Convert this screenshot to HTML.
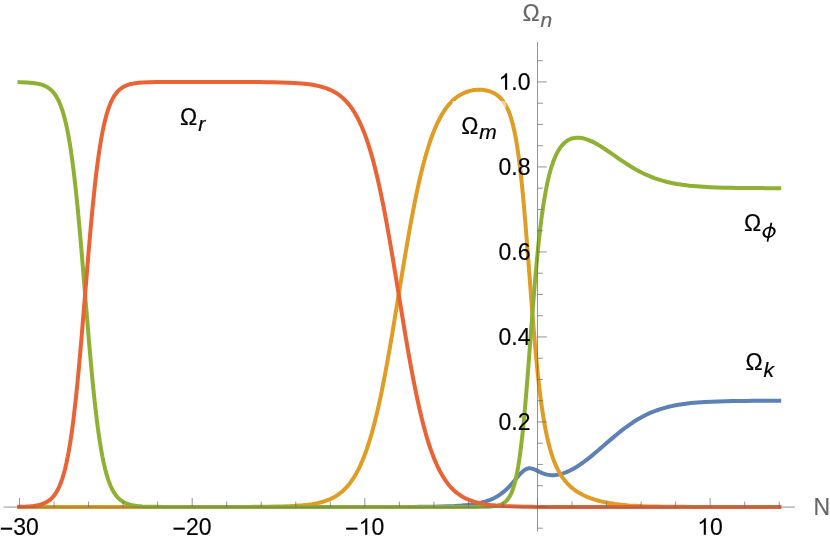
<!DOCTYPE html>
<html><head><meta charset="utf-8"><title>Density parameters</title>
<style>
html,body{margin:0;padding:0;background:#fff;}
body{width:830px;height:542px;overflow:hidden;font-family:"Liberation Sans",sans-serif;}
svg{display:block;will-change:transform;font-family:"Liberation Sans",sans-serif;}
</style></head><body>
<svg width="830" height="542" viewBox="0 0 830 542">
<rect width="830" height="542" fill="#fff"/>
<path d="M19.49 506.95 L26.40 506.95 L33.30 506.95 L40.21 506.95 L47.12 506.95 L54.02 506.95 L60.93 506.95 L67.84 506.95 L74.74 506.95 L81.65 506.95 L88.56 506.95 L95.46 506.95 L102.37 506.95 L109.28 506.95 L116.19 506.95 L123.09 506.95 L130.00 506.95 L136.91 506.95 L143.81 506.95 L150.72 506.95 L157.63 506.95 L164.53 506.95 L171.44 506.95 L178.35 506.95 L185.25 506.95 L192.16 506.95 L199.07 506.95 L205.97 506.95 L212.88 506.95 L219.79 506.95 L226.69 506.95 L233.60 506.95 L240.51 506.95 L247.41 506.95 L254.32 506.95 L261.23 506.95 L268.13 506.95 L275.04 506.95 L281.95 506.95 L288.86 506.95 L295.76 506.95 L302.67 506.95 L309.58 506.95 L316.48 506.95 L323.39 506.95 L330.30 506.95 L337.20 506.95 L344.11 506.95 L351.02 506.95 L357.92 506.95 L364.83 506.95 L371.74 506.95 L378.64 506.95 L385.55 506.94 L392.46 506.94 L399.36 506.93 L406.27 506.92 L413.18 506.89 L420.08 506.85 L426.99 506.79 L433.90 506.70 L440.80 506.57 L447.71 506.36 L454.62 506.06 L461.53 505.60 L467.05 505.09 L471.19 504.57 L475.34 503.92 L478.10 503.40 L480.86 502.78 L483.63 502.06 L486.39 501.22 L489.15 500.23 L490.53 499.68 L491.92 499.09 L493.30 498.45 L494.68 497.75 L496.06 497.01 L497.44 496.21 L498.82 495.34 L500.20 494.41 L501.58 493.42 L502.97 492.35 L504.35 491.21 L505.73 490.00 L507.11 488.71 L508.49 487.34 L509.87 485.90 L512.64 482.83 L518.16 476.28 L519.54 474.70 L520.92 473.22 L522.31 471.87 L523.69 470.70 L525.07 469.74 L526.45 469.01 L527.83 468.55 L529.21 468.33 L530.59 468.36 L531.97 468.60 L533.36 469.01 L534.74 469.55 L536.12 470.17 L540.26 472.19 L541.64 472.81 L543.03 473.37 L544.41 473.86 L545.79 474.28 L547.17 474.62 L548.55 474.88 L549.93 475.07 L551.31 475.17 L552.69 475.21 L554.08 475.17 L555.46 475.07 L556.84 474.89 L558.22 474.66 L559.60 474.37 L560.98 474.02 L562.36 473.62 L563.75 473.17 L565.13 472.67 L566.51 472.12 L569.27 470.89 L572.03 469.49 L574.80 467.95 L577.56 466.26 L580.32 464.44 L583.08 462.51 L587.23 459.41 L591.37 456.13 L598.28 450.34 L605.19 444.35 L612.09 438.37 L617.62 433.75 L621.76 430.43 L625.91 427.27 L630.05 424.30 L634.20 421.54 L636.96 419.82 L639.72 418.20 L642.48 416.67 L645.25 415.25 L648.01 413.92 L650.77 412.69 L653.53 411.55 L656.30 410.50 L660.44 409.09 L664.59 407.85 L668.73 406.77 L672.87 405.83 L678.40 404.79 L683.92 403.94 L690.83 403.10 L697.74 402.47 L704.64 402.00 L711.55 401.65 L718.46 401.39 L725.36 401.20 L732.27 401.06 L739.18 400.96 L746.09 400.88 L752.99 400.83 L759.90 400.79 L766.81 400.77 L773.71 400.75 L779.24 400.74" fill="none" stroke="#5E81B5" stroke-width="4" stroke-linecap="square" stroke-linejoin="round"/>
<path d="M19.49 506.95 L26.40 506.95 L33.30 506.95 L40.21 506.95 L47.12 506.95 L54.02 506.95 L60.93 506.95 L67.84 506.95 L74.74 506.95 L81.65 506.95 L88.56 506.95 L95.46 506.95 L102.37 506.95 L109.28 506.95 L116.19 506.95 L123.09 506.95 L130.00 506.95 L136.91 506.95 L143.81 506.95 L150.72 506.95 L157.63 506.95 L164.53 506.95 L171.44 506.95 L178.35 506.95 L185.25 506.95 L192.16 506.95 L199.07 506.95 L205.97 506.94 L212.88 506.94 L219.79 506.94 L226.69 506.93 L233.60 506.92 L240.51 506.91 L247.41 506.88 L254.32 506.85 L261.23 506.80 L268.13 506.73 L275.04 506.62 L281.95 506.46 L288.86 506.22 L295.76 505.86 L302.67 505.32 L308.19 504.71 L312.34 504.11 L316.48 503.35 L319.25 502.73 L322.01 502.00 L324.77 501.16 L327.53 500.17 L328.91 499.61 L330.30 499.01 L331.68 498.37 L333.06 497.67 L334.44 496.91 L335.82 496.10 L337.20 495.22 L338.58 494.27 L339.97 493.25 L341.35 492.15 L342.73 490.96 L344.11 489.68 L345.49 488.31 L346.87 486.83 L348.25 485.24 L349.64 483.53 L351.02 481.69 L352.40 479.72 L353.78 477.61 L355.16 475.35 L356.54 472.93 L357.92 470.34 L359.30 467.57 L360.69 464.62 L362.07 461.47 L363.45 458.12 L364.83 454.56 L366.21 450.77 L367.59 446.75 L368.97 442.50 L370.36 438.00 L371.74 433.25 L373.12 428.25 L374.50 422.99 L375.88 417.47 L377.26 411.69 L378.64 405.65 L380.02 399.35 L381.41 392.79 L382.79 385.99 L384.17 378.95 L386.93 364.20 L389.69 348.66 L392.46 332.47 L399.36 290.39 L404.89 256.80 L407.65 240.61 L410.41 225.05 L413.18 210.30 L414.56 203.25 L415.94 196.45 L417.32 189.89 L418.70 183.58 L420.08 177.54 L421.47 171.75 L422.85 166.23 L424.23 160.97 L425.61 155.97 L426.99 151.23 L428.37 146.73 L429.75 142.49 L431.14 138.48 L432.52 134.70 L433.90 131.15 L435.28 127.81 L436.66 124.68 L438.04 121.74 L439.42 119.00 L440.80 116.43 L442.19 114.04 L443.57 111.80 L444.95 109.73 L446.33 107.80 L447.71 106.00 L449.09 104.34 L450.47 102.80 L451.86 101.38 L453.24 100.06 L454.62 98.85 L456.00 97.74 L457.38 96.72 L458.76 95.78 L460.14 94.93 L461.53 94.15 L462.91 93.45 L464.29 92.82 L465.67 92.25 L467.05 91.75 L468.43 91.31 L469.81 90.92 L471.19 90.60 L472.58 90.32 L473.96 90.10 L475.34 89.93 L476.72 89.82 L478.10 89.75 L479.48 89.74 L480.86 89.78 L482.25 89.87 L483.63 90.01 L485.01 90.21 L486.39 90.48 L487.77 90.80 L489.15 91.19 L490.53 91.66 L491.92 92.20 L493.30 92.84 L494.68 93.57 L496.06 94.41 L497.44 95.38 L498.82 96.49 L500.20 97.77 L501.58 99.24 L502.97 100.93 L504.35 102.90 L505.73 105.17 L507.11 107.82 L508.49 110.91 L509.87 114.51 L511.25 118.73 L512.64 123.67 L514.02 129.45 L515.40 136.20 L516.78 144.04 L518.16 153.11 L519.54 163.52 L520.92 175.34 L522.31 188.59 L523.69 203.24 L525.07 219.16 L526.45 236.13 L531.97 308.14 L533.36 325.39 L534.74 341.73 L536.12 356.98 L537.50 371.04 L538.88 383.85 L540.26 395.44 L541.64 405.84 L543.03 415.15 L544.41 423.46 L545.79 430.85 L547.17 437.44 L548.55 443.30 L549.93 448.53 L551.31 453.21 L552.69 457.39 L554.08 461.15 L555.46 464.53 L556.84 467.58 L558.22 470.34 L559.60 472.85 L560.98 475.14 L562.36 477.23 L563.75 479.14 L565.13 480.90 L566.51 482.51 L567.89 484.01 L569.27 485.39 L570.65 486.68 L572.03 487.87 L573.42 488.98 L574.80 490.02 L576.18 490.99 L577.56 491.90 L578.94 492.75 L580.32 493.55 L583.08 495.01 L585.85 496.31 L588.61 497.47 L591.37 498.50 L594.14 499.43 L596.90 500.26 L601.04 501.35 L605.19 502.27 L609.33 503.06 L614.86 503.92 L621.76 504.76 L628.67 505.38 L635.58 505.84 L642.48 506.17 L649.39 506.41 L656.30 506.58 L663.20 506.69 L670.11 506.78 L677.02 506.83 L683.92 506.87 L690.83 506.90 L697.74 506.91 L704.64 506.93 L711.55 506.93 L718.46 506.94 L725.36 506.94 L732.27 506.94 L739.18 506.95 L746.09 506.95 L752.99 506.95 L759.90 506.95 L766.81 506.95 L773.71 506.95 L779.24 506.95" fill="none" stroke="#E19C24" stroke-width="4" stroke-linecap="square" stroke-linejoin="round"/>
<path d="M19.49 82.16 L26.40 82.42 L30.54 82.71 L33.30 83.00 L36.07 83.40 L37.45 83.65 L38.83 83.94 L40.21 84.28 L41.59 84.68 L42.97 85.15 L44.35 85.71 L45.74 86.35 L47.12 87.10 L48.50 87.99 L49.88 89.02 L51.26 90.22 L52.64 91.62 L54.02 93.25 L55.41 95.15 L56.79 97.36 L58.17 99.92 L59.55 102.89 L60.93 106.31 L62.31 110.26 L63.69 114.79 L65.07 119.98 L66.46 125.90 L67.84 132.61 L69.22 140.20 L70.60 148.72 L71.98 158.22 L73.36 168.75 L74.74 180.33 L76.13 192.94 L77.51 206.55 L78.89 221.09 L80.27 236.46 L81.65 252.51 L88.56 336.39 L89.94 352.44 L91.32 367.81 L92.70 382.35 L94.08 395.96 L95.46 408.57 L96.85 420.15 L98.23 430.68 L99.61 440.18 L100.99 448.70 L102.37 456.29 L103.75 463.00 L105.13 468.92 L106.52 474.11 L107.90 478.64 L109.28 482.59 L110.66 486.01 L112.04 488.98 L113.42 491.54 L114.80 493.75 L116.19 495.65 L117.57 497.28 L118.95 498.68 L120.33 499.88 L121.71 500.91 L123.09 501.80 L124.47 502.55 L125.85 503.19 L127.24 503.75 L128.62 504.22 L130.00 504.62 L131.38 504.96 L132.76 505.25 L135.52 505.72 L138.29 506.05 L142.43 506.40 L149.34 506.70 L156.24 506.84 L163.15 506.90 L170.06 506.93 L176.97 506.94 L183.87 506.95 L190.78 506.95 L197.69 506.95 L204.59 506.95 L211.50 506.95 L218.41 506.95 L225.31 506.95 L232.22 506.95 L239.13 506.95 L246.03 506.95 L252.94 506.95 L259.85 506.95 L266.75 506.95 L273.66 506.95 L280.57 506.95 L287.47 506.95 L294.38 506.95 L301.29 506.95 L308.19 506.95 L315.10 506.95 L322.01 506.95 L328.91 506.95 L335.82 506.95 L342.73 506.95 L349.64 506.95 L356.54 506.95 L363.45 506.95 L370.36 506.95 L377.26 506.95 L384.17 506.95 L391.08 506.95 L397.98 506.95 L404.89 506.95 L411.80 506.95 L418.70 506.95 L425.61 506.95 L432.52 506.95 L439.42 506.95 L446.33 506.95 L453.24 506.95 L460.14 506.95 L467.05 506.94 L473.96 506.93 L480.86 506.87 L487.77 506.70 L490.53 506.55 L493.30 506.30 L494.68 506.12 L496.06 505.90 L497.44 505.62 L498.82 505.27 L500.20 504.82 L501.58 504.25 L502.97 503.53 L504.35 502.63 L505.73 501.49 L507.11 500.07 L508.49 498.29 L509.87 496.06 L511.25 493.30 L512.64 489.87 L514.02 485.66 L515.40 480.52 L516.78 474.28 L518.16 466.81 L519.54 457.94 L520.92 447.57 L522.31 435.63 L523.69 422.13 L525.07 407.14 L526.45 390.87 L527.83 373.57 L531.97 319.20 L533.36 301.53 L534.74 284.63 L536.12 268.74 L537.50 254.01 L538.88 240.51 L540.26 228.26 L541.64 217.23 L543.03 207.35 L544.41 198.55 L545.79 190.73 L547.17 183.80 L548.55 177.68 L549.93 172.26 L551.31 167.48 L552.69 163.26 L554.08 159.54 L555.46 156.26 L556.84 153.38 L558.22 150.85 L559.60 148.63 L560.98 146.69 L562.36 145.00 L563.75 143.54 L565.13 142.29 L566.51 141.22 L567.89 140.32 L569.27 139.57 L570.65 138.96 L572.03 138.49 L573.42 138.13 L574.80 137.89 L576.18 137.74 L577.56 137.70 L578.94 137.74 L580.32 137.86 L581.70 138.06 L583.08 138.33 L584.47 138.67 L585.85 139.07 L587.23 139.53 L588.61 140.04 L589.99 140.61 L592.75 141.88 L595.52 143.30 L598.28 144.87 L601.04 146.55 L605.19 149.23 L612.09 153.96 L619.00 158.77 L625.91 163.42 L630.05 166.06 L634.20 168.55 L638.34 170.87 L642.48 173.00 L646.63 174.95 L650.77 176.71 L654.92 178.28 L659.06 179.68 L663.20 180.91 L667.35 181.99 L671.49 182.93 L677.02 183.99 L682.54 184.85 L689.45 185.71 L696.36 186.35 L703.26 186.84 L710.17 187.21 L717.08 187.48 L723.98 187.68 L730.89 187.82 L737.80 187.93 L744.70 188.00 L751.61 188.06 L758.52 188.10 L765.42 188.13 L772.33 188.15 L779.24 188.16" fill="none" stroke="#8FB032" stroke-width="4" stroke-linecap="square" stroke-linejoin="round"/>
<path d="M19.49 506.74 L26.40 506.48 L30.54 506.19 L33.30 505.90 L36.07 505.50 L37.45 505.25 L38.83 504.96 L40.21 504.62 L41.59 504.22 L42.97 503.75 L44.35 503.19 L45.74 502.55 L47.12 501.80 L48.50 500.91 L49.88 499.88 L51.26 498.68 L52.64 497.28 L54.02 495.65 L55.41 493.75 L56.79 491.54 L58.17 488.98 L59.55 486.01 L60.93 482.59 L62.31 478.64 L63.69 474.11 L65.07 468.92 L66.46 463.00 L67.84 456.29 L69.22 448.70 L70.60 440.18 L71.98 430.68 L73.36 420.15 L74.74 408.57 L76.13 395.96 L77.51 382.35 L78.89 367.81 L80.27 352.44 L81.65 336.39 L88.56 252.51 L89.94 236.46 L91.32 221.09 L92.70 206.55 L94.08 192.94 L95.46 180.33 L96.85 168.75 L98.23 158.22 L99.61 148.72 L100.99 140.20 L102.37 132.61 L103.75 125.90 L105.13 119.98 L106.52 114.79 L107.90 110.26 L109.28 106.31 L110.66 102.89 L112.04 99.92 L113.42 97.36 L114.80 95.15 L116.19 93.25 L117.57 91.62 L118.95 90.22 L120.33 89.02 L121.71 87.99 L123.09 87.10 L124.47 86.35 L125.85 85.71 L127.24 85.15 L128.62 84.68 L130.00 84.28 L131.38 83.94 L132.76 83.65 L135.52 83.18 L138.29 82.85 L142.43 82.50 L149.34 82.20 L156.24 82.06 L163.15 82.00 L170.06 81.97 L176.97 81.96 L183.87 81.96 L190.78 81.95 L197.69 81.95 L204.59 81.96 L211.50 81.96 L218.41 81.96 L225.31 81.97 L232.22 81.98 L239.13 81.99 L246.03 82.01 L252.94 82.04 L259.85 82.09 L266.75 82.15 L273.66 82.25 L280.57 82.40 L287.47 82.63 L294.38 82.96 L301.29 83.45 L306.81 84.02 L310.96 84.57 L315.10 85.28 L317.86 85.85 L320.63 86.52 L323.39 87.30 L326.15 88.22 L328.91 89.29 L330.30 89.89 L331.68 90.53 L333.06 91.23 L334.44 91.99 L335.82 92.80 L337.20 93.68 L338.58 94.63 L339.97 95.65 L341.35 96.75 L342.73 97.94 L344.11 99.22 L345.49 100.59 L346.87 102.07 L348.25 103.66 L349.64 105.37 L351.02 107.21 L352.40 109.18 L353.78 111.29 L355.16 113.55 L356.54 115.97 L357.92 118.56 L359.30 121.33 L360.69 124.28 L362.07 127.43 L363.45 130.78 L364.83 134.35 L366.21 138.13 L367.59 142.15 L368.97 146.40 L370.36 150.90 L371.74 155.65 L373.12 160.65 L374.50 165.91 L375.88 171.43 L377.26 177.21 L378.64 183.25 L380.02 189.55 L381.41 196.11 L382.79 202.91 L384.17 209.95 L386.93 224.70 L389.69 240.25 L392.46 256.44 L399.36 298.53 L404.89 332.13 L407.65 348.33 L410.41 363.89 L413.18 378.66 L414.56 385.71 L415.94 392.53 L417.32 399.09 L418.70 405.41 L420.08 411.46 L421.47 417.25 L422.85 422.79 L424.23 428.06 L425.61 433.07 L426.99 437.83 L428.37 442.34 L429.75 446.60 L431.14 450.63 L432.52 454.43 L433.90 458.00 L435.28 461.36 L436.66 464.52 L438.04 467.48 L439.42 470.26 L440.80 472.85 L442.19 475.28 L443.57 477.55 L444.95 479.67 L446.33 481.64 L447.71 483.48 L449.09 485.20 L450.47 486.79 L451.86 488.28 L453.24 489.66 L454.62 490.94 L456.00 492.13 L457.38 493.24 L458.76 494.26 L460.14 495.21 L461.53 496.09 L462.91 496.91 L464.29 497.67 L465.67 498.37 L467.05 499.02 L468.43 499.62 L471.19 500.70 L473.96 501.61 L476.72 502.40 L479.48 503.07 L482.25 503.65 L486.39 504.36 L490.53 504.91 L496.06 505.48 L502.97 505.98 L509.87 506.32 L516.78 506.56 L523.69 506.73 L530.59 506.85 L537.50 506.91 L544.41 506.93 L551.31 506.94 L558.22 506.95 L565.13 506.95 L572.03 506.95 L578.94 506.95 L585.85 506.95 L592.75 506.95 L599.66 506.95 L606.57 506.95 L613.47 506.95 L620.38 506.95 L627.29 506.95 L634.20 506.95 L641.10 506.95 L648.01 506.95 L654.92 506.95 L661.82 506.95 L668.73 506.95 L675.64 506.95 L682.54 506.95 L689.45 506.95 L696.36 506.95 L703.26 506.95 L710.17 506.95 L717.08 506.95 L723.98 506.95 L730.89 506.95 L737.80 506.95 L744.70 506.95 L751.61 506.95 L758.52 506.95 L765.42 506.95 L772.33 506.95 L779.24 506.95" fill="none" stroke="#EB6235" stroke-width="4" stroke-linecap="square" stroke-linejoin="round"/>
<rect x="452.6" y="101.3" width="49.1" height="52.6" fill="#fff"/>
<rect x="501.7" y="100.9" width="4.6" height="6.5" fill="#fff" fill-opacity="0.5"/>
<path d="M3.6 507.08 H794.9 M537.5 42.1 V531.5 M19.49 507.08 v-9.1 M54.02 507.08 v-5.5 M88.56 507.08 v-5.5 M123.09 507.08 v-5.5 M157.63 507.08 v-5.5 M192.16 507.08 v-9.1 M226.69 507.08 v-5.5 M261.23 507.08 v-5.5 M295.76 507.08 v-5.5 M330.30 507.08 v-5.5 M364.83 507.08 v-9.1 M399.36 507.08 v-5.5 M433.90 507.08 v-5.5 M468.43 507.08 v-5.5 M502.97 507.08 v-5.5 M537.50 507.08 v-9.1 M572.03 507.08 v-5.5 M606.57 507.08 v-5.5 M641.10 507.08 v-5.5 M675.64 507.08 v-5.5 M710.17 507.08 v-9.1 M744.70 507.08 v-5.5 M779.24 507.08 v-5.5 M537.5 528.20 h5.4 M537.5 506.95 h9.3 M537.5 485.70 h5.4 M537.5 464.45 h5.4 M537.5 443.20 h5.4 M537.5 421.95 h9.3 M537.5 400.70 h5.4 M537.5 379.45 h5.4 M537.5 358.20 h5.4 M537.5 336.95 h9.3 M537.5 315.70 h5.4 M537.5 294.45 h5.4 M537.5 273.20 h5.4 M537.5 251.95 h9.3 M537.5 230.70 h5.4 M537.5 209.45 h5.4 M537.5 188.20 h5.4 M537.5 166.95 h9.3 M537.5 145.70 h5.4 M537.5 124.45 h5.4 M537.5 103.20 h5.4 M537.5 81.95 h9.3 M537.5 60.70 h5.4" fill="none" stroke="#666" stroke-width="0.7"/>
<g font-size="23" fill="#000" stroke="#000" stroke-width="0.14"><rect x="0.84" y="527.65" width="11.3" height="2.05" stroke="none"/><text x="13.27" y="534.95">30</text><rect x="173.51" y="527.65" width="11.3" height="2.05" stroke="none"/><text x="185.94" y="534.95">20</text><rect x="346.18" y="527.65" width="11.3" height="2.05" stroke="none"/><path transform="translate(358.66 534.75) scale(0.011230 -0.011230)" d="M763 0H583V1147Q518 1085 412.5 1023T223 930V1104Q374 1175 487 1276T647 1472H763Z" stroke-width="8"/><text x="371.40" y="534.95">0</text><path transform="translate(697.28 534.75) scale(0.011230 -0.011230)" d="M763 0H583V1147Q518 1085 412.5 1023T223 930V1104Q374 1175 487 1276T647 1472H763Z" stroke-width="8"/><text x="710.02" y="534.95">0</text><text x="498.48" y="430.05">0.2</text><text x="498.48" y="345.05">0.4</text><text x="498.48" y="260.05">0.6</text><text x="498.48" y="175.05">0.8</text><path transform="translate(498.53 89.85) scale(0.011230 -0.011230)" d="M763 0H583V1147Q518 1085 412.5 1023T223 930V1104Q374 1175 487 1276T647 1472H763Z" stroke-width="8"/><text x="511.27" y="90.05">.0</text></g>
<text x="180.0" y="125.4" font-size="23" fill="#000" stroke="#000" stroke-width="0.2">Ω<tspan font-style="italic" font-size="21" dy="6" dx="1.0" stroke-width="0.2">r</tspan></text>
<text x="461.2" y="133.6" font-size="23" fill="#000" stroke="#000" stroke-width="0.2">Ω<tspan font-style="italic" font-size="21" dy="5.8" dx="0.8" stroke-width="0.2">m</tspan></text>
<text x="743.9" y="231.0" font-size="23" fill="#000" stroke="#000" stroke-width="0.2">Ω</text>
<path transform="translate(769.1 232.2) skewX(-13)" fill="#000" fill-rule="evenodd" d="M-6.45 0a6.45 5.7 0 1 0 12.9 0a6.45 5.7 0 1 0 -12.9 0ZM-4.4 0a4.4 4.0 0 1 0 8.8 0a4.4 4.0 0 1 0 -8.8 0Z"/><path d="M771.4 222.8 L767.5 241.6" stroke="#000" stroke-width="1.75" fill="none"/>
<text x="745.4" y="369.8" font-size="23" fill="#000" stroke="#000" stroke-width="0.2">Ω<tspan font-style="italic" font-size="21" dy="6.9" dx="0.9" stroke-width="0.2">k</tspan></text>
<text x="522.5" y="20.7" font-size="23" fill="#666" stroke="#666" stroke-width="0.2">Ω<tspan font-style="italic" font-size="21" dy="6.1" dx="0.8" stroke-width="0.2">n</tspan></text>
<text x="813.4" y="514.7" font-size="23" fill="#666" stroke="#666" stroke-width="0.15">N</text>
</svg>
</body></html>
